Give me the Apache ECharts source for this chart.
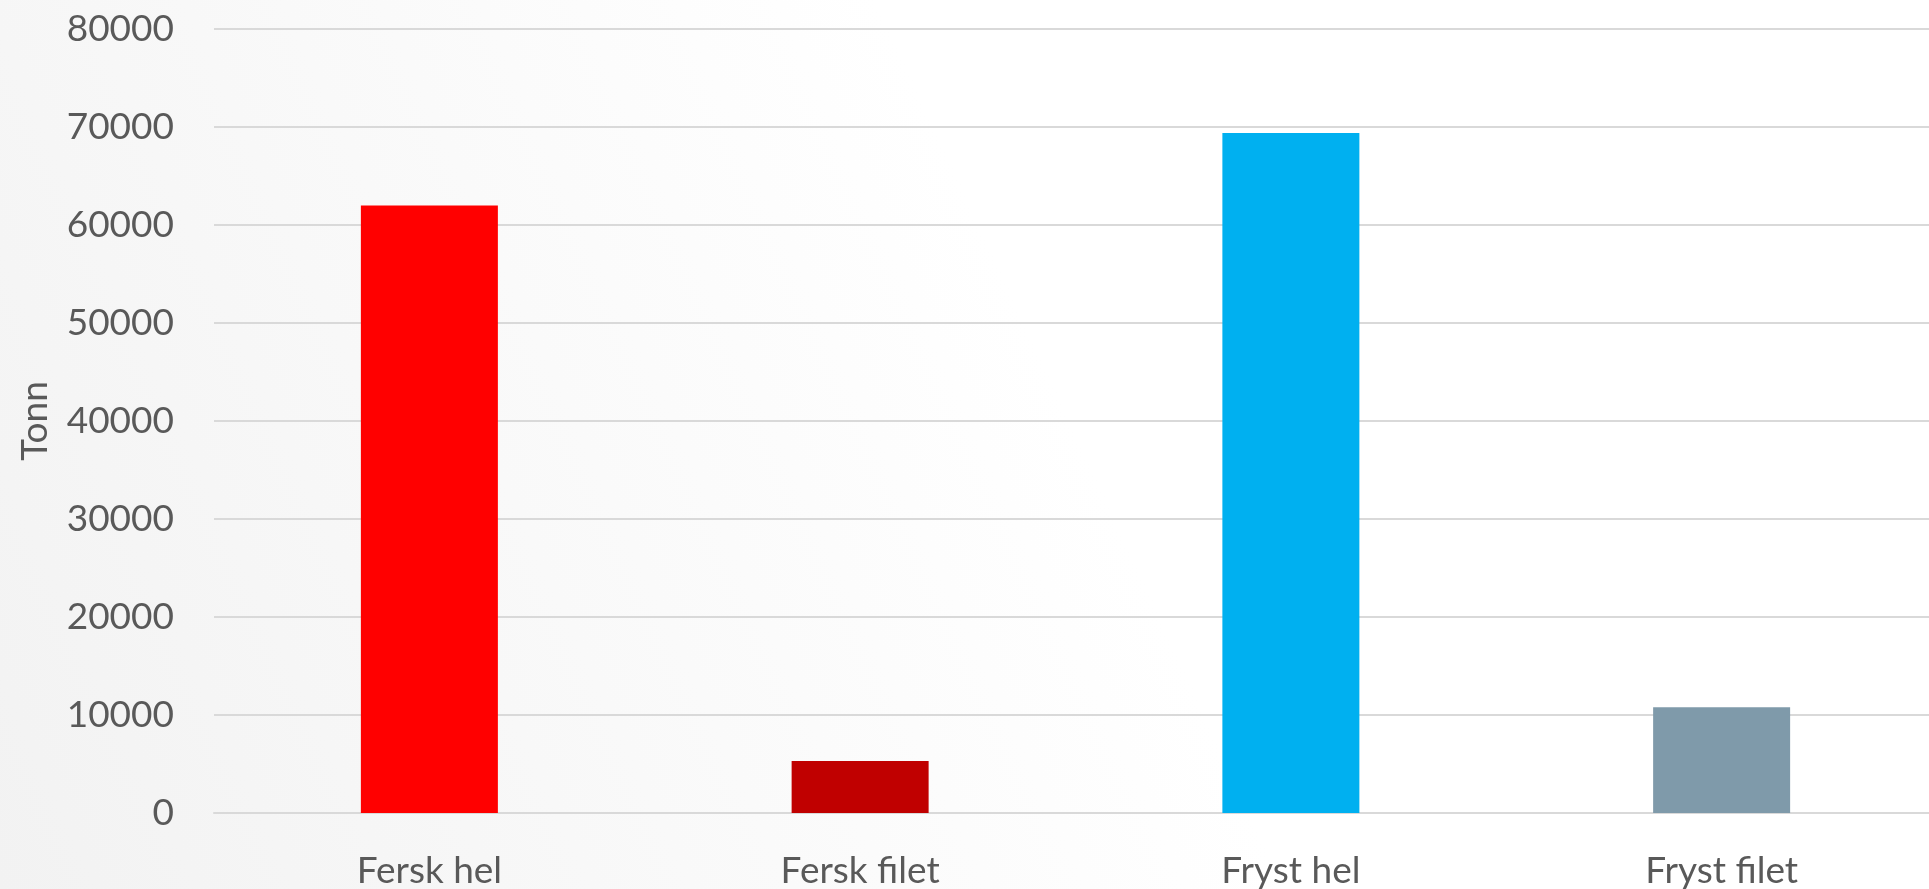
<!DOCTYPE html>
<html>
<head>
<meta charset="utf-8">
<script src="https://cdn.jsdelivr.net/npm/echarts@6/dist/echarts.min.js"></script>
<style>
html,body{margin:0;padding:0;width:1929px;height:889px;overflow:hidden;}
#c{width:1929px;height:889px;}
</style>
</head>
<body>
<div id="c"></div>
<script>
const categories = ['Fersk hel', 'Fersk filet', 'Fryst hel', 'Fryst filet'];
const values = [62000, 5300, 69400, 10800];
const barColors = ['#FF0000', '#C00000', '#00B0F0', '#7F9AAA'];
const yTicks = [0, 10000, 20000, 30000, 40000, 50000, 60000, 70000, 80000];
const yName = 'Tonn';

const chart = echarts.init(document.getElementById('c'));
const font = 'Lato';
chart.setOption({
  backgroundColor: {
    type: 'linear', x: 0, y: 1, x2: 1, y2: 0,
    colorStops: [
      {offset: 0, color: '#f2f2f2'},
      {offset: 0.55, color: '#ffffff'},
      {offset: 1, color: '#ffffff'}
    ]
  },
  animation: false,
  grid: {left: 214, width: 1723, top: 29, height: 784, containLabel: false, outerBoundsMode: 'none'},
  xAxis: {
    type: 'category',
    data: categories,
    axisLine: {show: true, lineStyle: {color: '#d9d9d9', width: 2}},
    axisTick: {show: false},
    axisLabel: {color: '#595959', fontFamily: font, fontSize: 37, margin: 40}
  },
  yAxis: {
    type: 'value',
    min: yTicks[0],
    max: yTicks[yTicks.length - 1],
    interval: yTicks[1] - yTicks[0],
    name: yName,
    nameLocation: 'middle',
    nameGap: 160,
    nameRotate: 90,
    nameTextStyle: {color: '#595959', fontFamily: font, fontSize: 37},
    axisLine: {show: false},
    axisTick: {show: false},
    splitLine: {lineStyle: {color: '#d9d9d9', width: 2}},
    axisLabel: {color: '#595959', fontFamily: font, fontSize: 37, margin: 40,
      formatter: v => String(v)}
  },
  series: [{
    type: 'bar',
    barWidth: 137,
    data: values.map((v, i) => ({value: v, itemStyle: {color: barColors[i]}}))
  }]
});
</script>
</body>
</html>
